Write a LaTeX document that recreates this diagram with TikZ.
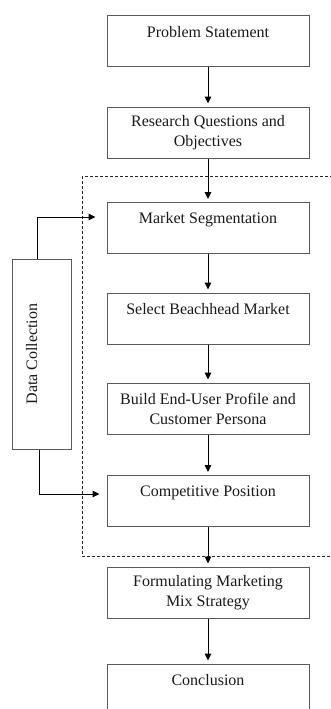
\documentclass[tikz,border=0pt]{standalone}
\usepackage{fontspec}
\setmainfont{Liberation Serif}
\usetikzlibrary{arrows.meta,calc}
\begin{document}
\begin{tikzpicture}[x=1pt,y=-1pt,
  stepbox/.style={draw=black!65, line width=1pt, minimum width=202pt, minimum height=51pt,
    inner sep=0pt, align=center, font=\fontsize{16}{20}\selectfont, text=black!90},
  sidebox/.style={stepbox, rotate=90, minimum width=190pt, minimum height=59pt},
  flow/.style={draw=black, line width=1pt, -{Triangle[length=7pt,width=6.5pt]}, shorten >=3pt},
  dashbox/.style={draw=black!85, line width=1pt, dash pattern=on 3pt off 2pt},
]
\useasboundingbox (0,0) rectangle (331,709);
\clip (0,0) rectangle (331,709);
\draw[dashbox] (82,176) rectangle (345,556);
\node[stepbox] (ps) at (208,41.5) {Problem Statement\\ ~};
\node[stepbox] (rq) at (208,132.5) {Research Questions and\\Objectives};
\node[stepbox] (ms) at (208,228) {Market Segmentation\\ ~};
\node[stepbox] (sb) at (208,318.5) {Select Beachhead Market\\ ~};
\node[stepbox] (be) at (208,408.5) {Build End-User Profile and\\Customer Persona};
\node[stepbox] (cp) at (208,501) {Competitive Position\\ ~};
\node[stepbox] (fm) at (208,592.5) {Formulating Marketing\\Mix Strategy};
\node[stepbox] (cc) at (208,689.5) {Conclusion\\ ~};
\node[sidebox] (dc) at (41.5,354) {Data Collection\\ ~};
\draw[flow] (ps) -- (rq);
\draw[flow] (rq) -- (ms);
\draw[flow] (ms) -- (sb);
\draw[flow] (sb) -- (be);
\draw[flow] (be) -- (cp);
\draw[flow] (cp) -- (fm);
\draw[flow] (fm) -- (cc);
\draw[flow, shorten >=11pt] (37,0 |- dc.east) |- ($(ms.west)+(0,-11)$);
\draw[flow, shorten >=7pt] (39,0 |- dc.west) |- ($(cp.west)+(0,-7)$);
\end{tikzpicture}
\end{document}
